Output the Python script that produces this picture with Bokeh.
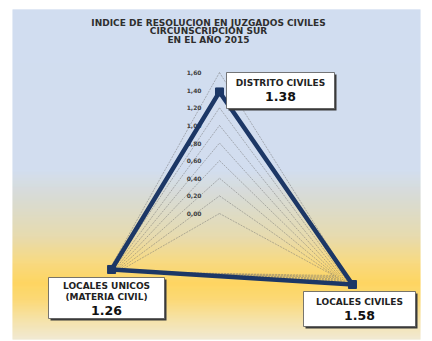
import numpy as np
from bokeh.plotting import figure
from bokeh.models import Range1d
from bokeh.core.properties import value
from bokeh.embed import file_html
from bokeh.resources import INLINE

# ---- data ----
title_lines = ["INDICE DE RESOLUCION EN JUZGADOS CIVILES", "CIRCUNSCRIPCION SUR", "EN EL AÑO 2015"]
categories = ["DISTRITO CIVILES", "LOCALES CIVILES", "LOCALES UNICOS\n(MATERIA CIVIL)"]
values = [1.38, 1.58, 1.26]
tick_values = [0.0, 0.2, 0.4, 0.6, 0.8, 1.0, 1.2, 1.4, 1.6]
tick_labels = ["0,00", "0,20", "0,40", "0,60", "0,80", "1,00", "1,20", "1,40", "1,60"]

# ---- radar projection (page-pixel space) ----
axes_geom = [
    ((219.0, 213.0), (0.0, -88.1)),   # top
    ((333.0, 275.0), (12.0, 5.7)),    # bottom right
    ((118.0, 271.0), (-5.5, -1.6)),   # bottom left
]

def proj(k, v):
    (ox, oy), (dx, dy) = axes_geom[k]
    return ox + dx * v, oy + dy * v

W, H = 432, 341
p = figure(width=W, height=H, output_backend="svg", toolbar_location=None,
           x_range=Range1d(0, W), y_range=Range1d(H, 0), min_border=0)
p.axis.visible = False
p.grid.visible = False
p.outline_line_color = None
p.background_fill_color = "white"
p.border_fill_color = "white"

# ---- gradient background ----
stops_y = [9, 170, 200, 235, 262, 282, 298, 318, 340]
stops_c = ["#c2d2ec", "#c4d3e9", "#cdcfc2", "#dfcf95", "#f6cd58", "#fec82e", "#fbcc48", "#f3d98a", "#ece3c9"]
def hex2rgb(h):
    return np.array([int(h[i:i + 2], 16) for i in (1, 3, 5)], dtype=float)
rgbs = np.array([hex2rgb(c) for c in stops_c])
ys = np.arange(9, 339)
cols = []
for y in ys:
    r = np.interp(y, stops_y, rgbs[:, 0]); g = np.interp(y, stops_y, rgbs[:, 1]); b = np.interp(y, stops_y, rgbs[:, 2])
    cols.append("#%02x%02x%02x" % (int(r), int(g), int(b)))
p.quad(left=12, right=420, top=ys, bottom=ys + 1.05, fill_color=cols, line_color=None)

# ---- grid triangles ----
gx, gy = [], []
for tv in tick_values:
    pts = [proj(k, tv) for k in range(3)] + [proj(0, tv)]
    gx.append([a for a, b in pts]); gy.append([b for a, b in pts])
p.multi_line(gx, gy, line_color="#6f6f6f", line_width=0.6, line_alpha=0.8, line_dash="2 1")

# tick labels on the top axis
tx = [proj(0, tv)[0] - 18 for tv in tick_values]
ty = [proj(0, tv)[1] for tv in tick_values]
p.text(tx, ty, text=tick_labels, text_font=value("DejaVu Sans"), text_font_style="bold",
       text_font_size="6px", text_color="#404040", text_align="right", text_baseline="middle")

# ---- data polygon ----
dpts = [proj(k, v) for k, v in enumerate(values)]
lx = [a for a, b in dpts] + [dpts[0][0]]
ly = [b for a, b in dpts] + [dpts[0][1]]
p.line(lx, ly, line_color="#1c3766", line_width=4.5, line_join="miter")
p.scatter([a for a, b in dpts], [b for a, b in dpts], marker="square", size=8,
          fill_color="#1c3766", line_color="#1c3766")

# ---- title ----
for i, t in enumerate(title_lines):
    p.text([208], [22 + 8.5 * i], text=[t], text_font=value("DejaVu Sans"), text_font_style="bold",
           text_font_size="9px", text_color="#2e2e2e", text_align="center", text_baseline="middle")

# ---- label boxes ----
boxes = [(226, 334, 72, 108), (303, 415, 291, 326), (48, 164, 277, 318)]
for k, (l, r, t, b) in enumerate(boxes):
    p.quad(left=l + 2, right=r + 2, top=t + 2, bottom=b + 2, fill_color="#3a3a3a", line_color=None)
    p.quad(left=l, right=r, top=t, bottom=b, fill_color="white", line_color="#555555", line_width=0.8)
    cx = (l + r) / 2
    name_lines = categories[k].split("\n")
    n = len(name_lines)
    y0 = t + 10 if n == 1 else t + 8
    for j, nl in enumerate(name_lines):
        p.text([cx], [y0 + 11 * j], text=[nl], text_font=value("DejaVu Sans"), text_font_style="bold",
               text_font_size="9px", text_color="#222222", text_align="center", text_baseline="middle")
    p.text([cx], [y0 + 11 * (n - 1) + 14], text=["%.2f" % values[k]], text_font=value("DejaVu Sans"),
           text_font_style="bold", text_font_size="12.5px", text_color="#111111",
           text_align="center", text_baseline="middle")

open("out.html", "w").write(file_html(p, INLINE))
